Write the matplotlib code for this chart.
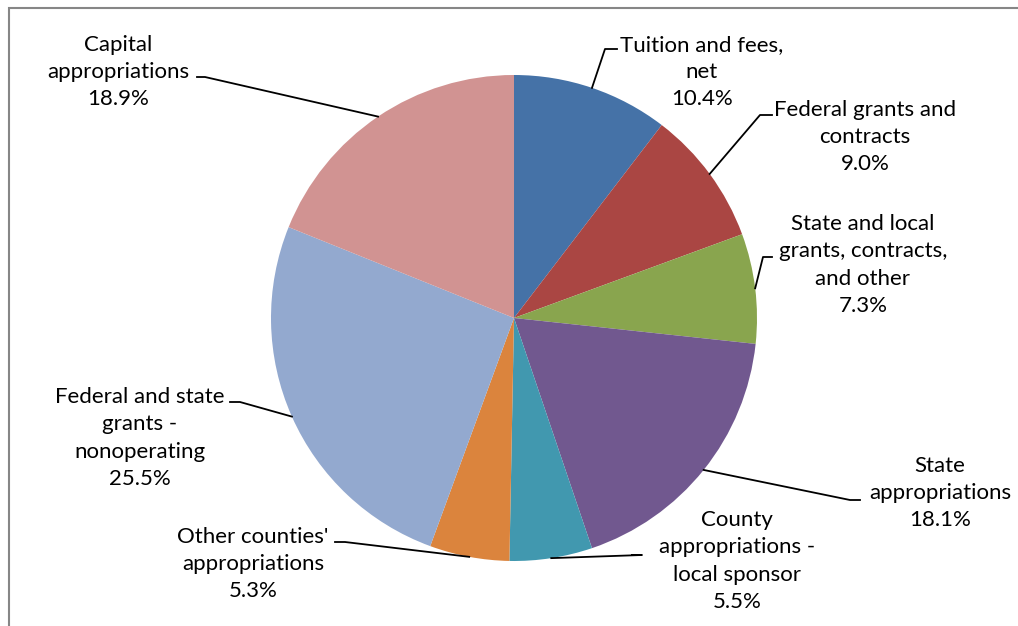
import numpy as np
import matplotlib
matplotlib.use("Agg")
import matplotlib.pyplot as plt
from matplotlib.patches import Rectangle

labels = ["Tuition and fees,\nnet", "Federal grants and\ncontracts",
          "State and local\ngrants, contracts,\nand other", "State\nappropriations",
          "County\nappropriations -\nlocal sponsor", "Other counties'\nappropriations",
          "Federal and state\ngrants -\nnonoperating", "Capital\nappropriations"]
values = [10.4, 9.0, 7.3, 18.1, 5.5, 5.3, 25.5, 18.9]
colors = ["#4572A7", "#AA4643", "#89A54E", "#71588F", "#4198AF", "#DB843D", "#93A9CF", "#D19392"]

# label text centres (pixels, top-left origin) and label-side leader anchor (start, end of short horizontal)
label_pos = [(702, 72), (865, 137), (863, 265), (940, 493), (737, 561), (253, 564), (140, 438), (118, 72)]
anchor = [((617, 49), (605, 49)), ((772, 115), (760, 115)), ((772, 257), (763, 257)),
          ((860, 500), (850, 500)), ((632, 555), (642, 555)), ((335, 542), (345, 542)),
          ((230, 402), (240, 402)), ((197, 77), (205, 77))]

W, H = 1018, 626
fig = plt.figure(figsize=(W / 100, H / 100), dpi=100)
ax = fig.add_axes([0, 0, 1, 1])

cx, cy, r = 514, H - 318, 243
wedges, _ = ax.pie(values, colors=colors, startangle=90, counterclock=False,
                   center=(cx, cy), radius=r, frame=True,
                   wedgeprops=dict(edgecolor="none", linewidth=0))
ax.set_xlim(0, W)
ax.set_ylim(0, H)
ax.set_aspect("equal")
ax.axis("off")

ax.add_patch(Rectangle((9, -20), W + 20, H - 8 + 20, fill=False, edgecolor="#868686", lw=1.5, zorder=0))

font = dict(family="Lato", fontsize=16)
for w, lab, v, (lx, ly), (a0, a1) in zip(wedges, labels, values, label_pos, anchor):
    mid = np.deg2rad((w.theta1 + w.theta2) / 2)
    ex, ey = cx + r * np.cos(mid), cy + r * np.sin(mid)
    ax.plot([a0[0], a1[0], ex], [H - a0[1], H - a1[1], ey], color="black", lw=1.3, zorder=5)
    ax.text(lx, H - ly, f"{lab}\n{v:.1f}%", ha="center", va="center",
            linespacing=1.45, color="black", **font)

fig.savefig("out.png", dpi=100)
